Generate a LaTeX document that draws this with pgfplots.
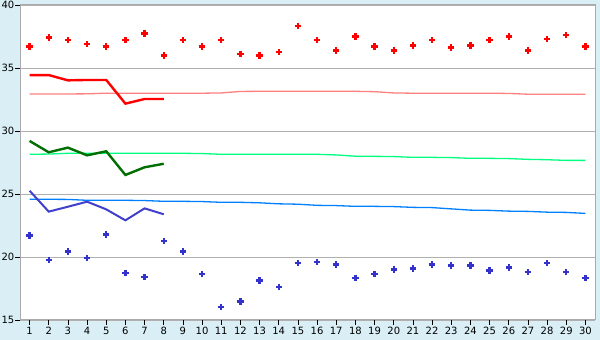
\documentclass[border=0pt]{standalone}
\usepackage{pgfplots}
\pgfplotsset{compat=1.18}
\usepackage{fontspec}
\setmainfont{DejaVu Sans}
\definecolor{bgblue}{RGB}{217,238,245}
\definecolor{bordergray}{RGB}{170,170,170}
\definecolor{gridgray}{RGB}{176,176,176}
\definecolor{pinkl}{RGB}{255,128,128}
\definecolor{dgreen}{RGB}{0,110,0}
\definecolor{lgreen}{RGB}{0,255,128}
\definecolor{dblue}{RGB}{64,64,204}
\definecolor{lblue}{RGB}{0,128,255}
\definecolor{ptblue}{RGB}{51,51,204}
\begin{document}
\begin{tikzpicture}[x=1pt,y=1pt]
\fill[bgblue] (0,0) rectangle (600,340);
\begin{axis}[
  at={(20pt,20pt)}, anchor=south west,
  scale only axis, width=575pt, height=315pt,
  xmin=0.5, xmax=30.5, ymin=15, ymax=40,
  xtick={1,...,30}, ytick={15,20,...,40},
  axis background/.style={fill=white},
  axis line style={bordergray, line width=1pt},
  ymajorgrids, grid style={gridgray, line width=0.8pt},
  tick style={black, line width=0.8pt},
  tick align=outside, major tick length=4.5pt,
  xtick pos=bottom, ytick pos=left,
  tick label style={font=\fontsize{10}{12}\selectfont, inner sep=1pt},
  /pgf/number format/assume math mode=true,
  xticklabel style={yshift=-1.5pt},
  yticklabel style={xshift=0pt},
  clip=false,
]
% light normal lines
\addplot[pinkl, line width=1.3pt] coordinates {
(1,32.93)(2,32.93)(3,32.94)(4,32.95)(5,33.0)(6,33.0)(7,33.0)(8,33.0)(9,33.0)(10,33.0)(11,33.02)(12,33.14)(13,33.15)(14,33.15)(15,33.15)(16,33.15)(17,33.15)(18,33.15)(19,33.12)(20,33.02)(21,33.0)(22,33.0)(23,33.0)(24,33.0)(25,33.0)(26,32.98)(27,32.92)(28,32.92)(29,32.92)(30,32.92)};
\addplot[lgreen, line width=1.3pt] coordinates {
(1,28.15)(2,28.17)(3,28.23)(4,28.23)(5,28.23)(6,28.23)(7,28.23)(8,28.23)(9,28.23)(10,28.21)(11,28.15)(12,28.15)(13,28.15)(14,28.15)(15,28.15)(16,28.15)(17,28.1)(18,28.0)(19,27.99)(20,27.97)(21,27.91)(22,27.91)(23,27.89)(24,27.83)(25,27.83)(26,27.81)(27,27.75)(28,27.72)(29,27.67)(30,27.67)};
\addplot[lblue, line width=1.3pt] coordinates {
(1,24.58)(2,24.58)(3,24.57)(4,24.5)(5,24.5)(6,24.5)(7,24.48)(8,24.42)(9,24.42)(10,24.4)(11,24.34)(12,24.34)(13,24.3)(14,24.22)(15,24.19)(16,24.1)(17,24.08)(18,24.02)(19,24.02)(20,24.0)(21,23.94)(22,23.92)(23,23.82)(24,23.72)(25,23.7)(26,23.64)(27,23.62)(28,23.56)(29,23.54)(30,23.46)};
% actual lines
\addplot[red, line width=2.4pt] coordinates {
(1,34.44)(2,34.44)(3,34.02)(4,34.05)(5,34.05)(6,32.17)(7,32.54)(8,32.54)};
\addplot[dgreen, line width=2.4pt] coordinates {
(1,29.21)(2,28.31)(3,28.68)(4,28.07)(5,28.39)(6,26.51)(7,27.12)(8,27.4)};
\addplot[dblue, line width=2pt] coordinates {
(1,25.26)(2,23.6)(3,23.99)(4,24.39)(5,23.78)(6,22.91)(7,23.86)(8,23.39)};
% point series
\addplot[only marks, red, mark=+, mark size=3.2pt, mark options={line width=2.4pt, red}] coordinates {
(1,36.72)(2,37.43)(3,37.2)(4,36.9)(5,36.72)(6,37.2)(7,37.75)(8,36.0)(9,37.2)(10,36.72)
(11,37.2)(12,36.09)(13,36.0)(14,36.25)(15,38.31)(16,37.2)(17,36.4)(18,37.51)(19,36.72)(20,36.4)
(21,36.8)(22,37.2)(23,36.64)(24,36.8)(25,37.2)(26,37.5)(27,36.4)(28,37.28)(29,37.6)(30,36.72)};
\addplot[only marks, ptblue, mark=+, mark size=3.2pt, mark options={line width=2.4pt, ptblue}] coordinates {
(1,21.72)(2,19.74)(3,20.45)(4,19.9)(5,21.8)(6,18.71)(7,18.39)(8,21.25)(9,20.45)(10,18.63)
(11,16.03)(12,16.48)(13,18.15)(14,17.6)(15,19.5)(16,19.58)(17,19.42)(18,18.31)(19,18.63)(20,19.02)
(21,19.1)(22,19.42)(23,19.34)(24,19.34)(25,18.94)(26,19.18)(27,18.79)(28,19.5)(29,18.79)(30,18.31)};
\end{axis}
\pgfresetboundingbox
\useasboundingbox (0,0) rectangle (600,340);
\end{tikzpicture}
\end{document}
